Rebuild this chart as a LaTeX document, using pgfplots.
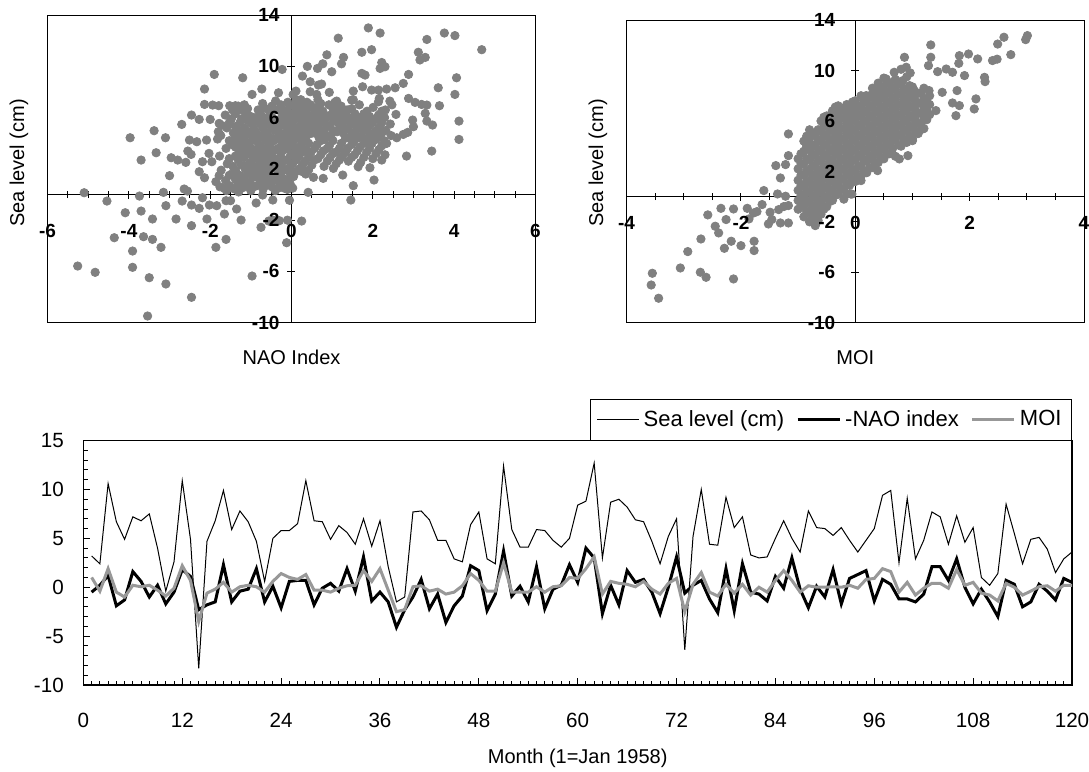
\documentclass[border=0pt]{standalone}
\usepackage{pgfplots}
\pgfplotsset{compat=1.18}
\usepackage{pgfplotstable}
\usepackage{fontspec}
\setmainfont{Liberation Sans}

\definecolor{dotgray}{RGB}{128,128,128}
\definecolor{moigray}{RGB}{152,152,152}

% monthly series: month, sea level (cm), -NAO index, MOI
\pgfplotstableread{
m sl nao moi
1 3.2 -0.5 1.0
2 2.4 0.2 -0.4
3 10.6 1.2 1.9
4 6.7 -1.9 -0.5
5 4.9 -1.3 -1.0
6 7.2 1.6 0.2
7 6.8 0.6 0.05
8 7.5 -1.0 0.2
9 4.0 0.2 -0.3
10 -0.4 -1.7 -0.9
11 2.6 -0.5 -0.1
12 10.9 1.8 2.2
13 4.9 1.1 0.7
14 -8.3 -2.3 -3.5
15 4.7 -1.8 -0.6
16 6.8 -1.5 -0.2
17 9.9 2.3 0.5
18 5.9 -1.5 -0.5
19 7.8 -0.4 0.05
20 6.7 -0.2 0.2
21 4.7 1.9 0.05
22 0.6 -1.5 -0.5
23 5.0 0.1 0.6
24 5.8 -2.1 1.4
25 5.8 0.6 1.0
26 6.5 0.7 0.8
27 10.9 0.7 1.3
28 6.8 -1.8 -0.3
29 6.7 -0.1 -0.3
30 4.9 0.4 -0.5
31 6.3 -0.4 -0.1
32 5.6 1.9 0.15
33 4.4 -0.4 0.2
34 7.0 3.1 1.7
35 4.2 -1.4 0.6
36 6.8 -0.5 1.9
37 2.1 -1.5 -0.3
38 -1.5 -4.1 -2.5
39 -1.0 -2.3 -2.3
40 7.7 -1.0 0.05
41 7.8 0.8 0.15
42 6.9 -2.2 -0.4
43 4.8 -0.7 -0.2
44 4.8 -3.6 -0.7
45 2.9 -1.9 -0.5
46 2.6 -0.9 0.15
47 6.4 2.2 1.4
48 7.7 1.7 0.7
49 2.9 -2.4 -0.4
50 2.4 -0.7 -0.4
51 12.4 3.7 2.5
52 5.9 -0.9 -0.5
53 4.1 0.1 -0.5
54 4.1 -1.5 -0.5
55 5.9 2.1 0.05
56 5.8 -2.2 -0.5
57 4.8 -0.2 0.05
58 4.1 0.2 0.15
59 5.0 2.3 1.0
60 8.4 0.5 0.9
61 8.8 4.0 1.9
62 12.7 3.0 3.1
63 3.0 -2.7 -0.7
64 8.7 0.2 0.6
65 9.0 -1.8 0.4
66 8.2 1.7 0.3
67 6.9 0.5 0.05
68 6.7 0.8 0.6
69 4.7 -0.5 -0.2
70 2.4 -2.7 -0.7
71 5.2 0.0 0.4
72 7.0 3.1 0.9
73 -6.4 -0.6 -2.5
74 5.2 0.2 0.3
75 10.0 0.7 1.5
76 4.4 -1.2 -0.5
77 4.3 -2.6 -0.9
78 9.2 1.9 0.3
79 6.1 -2.4 -0.6
80 7.2 2.4 0.3
81 3.3 -0.5 -0.8
82 3.0 -0.7 0.0
83 3.1 -1.4 -0.5
84 5.0 1.1 0.7
85 6.8 -0.1 1.7
86 5.0 3.0 0.7
87 3.6 -0.2 -0.5
88 7.8 -2.1 0.15
89 6.1 0.1 0.0
90 6.0 -1.0 0.0
91 5.3 1.8 0.05
92 6.1 -1.7 0.0
93 4.8 0.9 0.2
94 3.6 1.3 -0.1
95 4.8 1.7 0.8
96 6.0 -1.4 0.9
97 9.4 0.8 1.9
98 9.9 0.3 1.6
99 2.5 -1.2 -0.5
100 9.1 -1.2 0.5
101 2.9 -1.5 -0.8
102 4.8 -0.7 -0.1
103 7.7 2.1 0.4
104 7.2 2.1 0.4
105 4.4 0.7 -0.1
106 7.3 2.9 1.8
107 4.6 0.0 0.2
108 6.1 -1.7 0.5
109 1.0 -0.2 -0.6
110 0.2 -1.5 -0.8
111 1.4 -3.0 -1.4
112 8.5 0.7 0.4
113 5.5 0.3 0.0
114 2.4 -2.0 -0.8
115 4.9 -1.5 -0.4
116 5.1 0.3 0.05
117 3.9 -0.4 0.15
118 1.5 -1.3 -0.4
119 2.9 0.9 0.2
120 3.6 0.5 0.2
}\monthly

\pgfplotsset{
  scatterbase/.style={
    anchor=south west, scale only axis,
    axis lines=middle, axis line style={-, line width=0.5pt},
    ymin=-10, ymax=14,
    ytick={-10,-6,-2,2,6,10,14},
    minor x tick num=3,
    hide obscured x ticks=false,
    hide obscured y ticks=false,
    tick style={black, line width=0.5pt},
    major tick length=4pt, minor tick length=3.5pt,
    tick label style={font=\fontsize{9.5}{11}\selectfont\bfseries},
    label style={font=\fontsize{10}{12}\selectfont},
    /pgf/number format/assume math mode=true,
  },
  % lower layer: lines, ticks, frame and dots
  scatterunder/.style={scatterbase, xticklabels={}, yticklabels={},
    after end axis/.code={\draw[line width=0.5pt] (rel axis cs:0,0) rectangle (rel axis cs:1,1);}},
  % upper layer: tick labels only, so they stay readable over the dots
  scatterover/.style={scatterbase, axis line style={draw=none}, tick style={draw=none},
    yticklabels={-10,-6,-2,2,6,10,14}},
  dots/.style={only marks, mark=*, mark size=2.1pt, color=dotgray},
}

\begin{document}
\begin{tikzpicture}
\path[use as bounding box] (0pt,0pt) rectangle (544.5pt,386pt);

% ---------- sea level against NAO index ----------
\begin{axis}[scatterunder,
  at={(23.8pt,224.65pt)}, width=243.9pt, height=153.8pt,
  xmin=-6, xmax=6, xtick={-6,-4,-2,0,2,4,6},
]
\addplot[dots] coordinates {
(-0.23,9.76) (-1.90,9.37) (-1.20,9.11) (-2.14,8.23) (-0.73,8.23) (-0.97,7.81) (-0.32,7.94)
(-2.14,7.03) (-1.94,6.98) (-1.79,6.93) (-1.52,6.93) (-1.38,6.93) (-2.46,6.20) (-2.70,5.47)
(-2.27,5.86) (-2.00,5.86) (-1.78,5.55) (-3.38,4.98) (-3.97,4.43) (-3.10,4.43) (-2.51,4.25)
(-2.33,4.12) (-2.09,4.25) (-1.80,4.90) (-1.82,4.33) (-3.33,3.26) (-3.70,2.69) (-2.96,2.87)
(-2.80,2.69) (-2.55,3.39) (-2.47,3.13) (-2.60,2.51) (-2.19,2.56) (-2.03,3.21) (-1.96,2.56)
(-3.00,1.47) (-2.27,1.78) (-2.14,1.31) (-1.78,1.47) (-1.86,1.00) (-2.64,0.43) (-2.56,0.27)
(-1.65,0.48) (-5.10,0.14) (-4.54,-0.51) (-4.09,-1.42) (-3.74,-0.12) (-3.70,-1.29) (-3.15,0.17)
(-3.09,-0.87) (-3.42,-1.91) (-2.84,-1.91) (-2.69,-0.51) (-2.46,-0.82) (-2.46,-2.43) (-2.27,-1.08)
(-2.19,-0.25) (-2.08,-1.91) (-2.02,-0.82) (-1.84,-0.87) (-1.61,-0.48) (-1.50,-0.48) (-1.65,-1.52)
(-1.35,-1.13) (-1.24,-1.99) (-0.87,-0.66) (-0.71,-0.04) (-0.75,-2.56) (-0.56,-2.07) (-0.46,-0.43)
(-0.30,-2.04) (-0.45,-2.00) (-0.10,-2.00) (-0.12,-3.76) (-4.36,-3.37) (-3.64,-3.29) (-3.42,-3.50)
(-3.21,-4.12) (-3.91,-4.41) (-1.61,-3.50) (-1.86,-4.12) (-5.26,-5.58) (-4.83,-6.07) (-3.91,-5.68)
(-3.50,-6.49) (-3.09,-6.98) (-2.46,-8.02) (-3.54,-9.48) (-0.97,-6.36) (-0.05,-0.45) (0.03,0.50)
(1.89,13.0) (2.18,12.6) (1.15,12.2) (3.76,12.6) (4.02,12.4) (4.68,11.3) (3.33,12.1) (3.12,11.1)
(3.16,10.5) (3.29,10.7) (1.73,11.1) (1.97,11.3) (1.28,10.7) (1.23,10.2) (0.87,10.9) (0.39,10.0)
(0.64,9.84) (0.77,10.2) (0.99,9.58) (0.27,9.24) (2.22,10.3) (2.30,9.97) (2.18,9.84) (2.88,9.37)
(1.73,9.45) (1.81,9.32) (4.06,9.11) (0.46,8.80) (0.66,8.54) (0.74,8.62) (0.11,8.07) (1.75,8.41)
(2.75,8.67) (3.61,8.33) (0.46,8.02) (0.62,7.81) (0.93,7.97) (1.52,8.07) (1.97,8.15) (2.14,8.15)
(2.34,8.23) (2.55,8.33) (4.02,7.81) (2.88,7.50) (1.48,7.37) (1.11,7.29) (3.04,7.19) (3.20,7.03)
(3.33,6.98) (3.64,6.93) (2.14,7.24) (2.42,7.29) (2.57,6.25) (3.29,6.33) (2.98,5.81) (3.33,5.73)
(3.47,5.42) (4.12,5.73) (3.00,5.29) (2.86,4.85) (2.75,4.69) (2.59,4.43) (2.34,3.99) (4.12,4.30)
(3.45,3.39) (2.83,3.00) (2.22,2.69) (1.93,2.09) (1.64,2.17) (1.26,1.52) (2.03,1.13) (1.52,0.69)
(1.46,-0.43) (0.25,-2.07) (0.41,0.17) (0.78,1.26) (0.54,1.34) (1.03,2.04) (0.27,1.78)
(-1.76,0.6) (-1.73,1.9) (-1.77,3.0) (-1.74,4.6) (-1.72,5.4)
(-1.60,0.3) (-1.62,1.1) (-1.58,2.4) (-1.61,3.6) (-1.59,5.2) (-1.63,6.2)
(-1.45,0.5) (-1.47,1.6) (-1.44,2.2) (-1.46,3.9) (-1.43,4.8) (-1.48,5.9) (-1.45,6.6)
(-1.30,0.2) (-1.32,0.9) (-1.28,1.5) (-1.31,2.7) (-1.29,3.3) (-1.33,4.1) (-1.30,5.0) (-1.27,5.6) (-1.31,6.9)
(-1.15,0.6) (-1.17,1.3) (-1.14,2.0) (-1.16,2.9) (-1.13,3.6) (-1.18,4.4) (-1.15,5.2) (-1.12,6.3) (-1.16,7.0)
(-1.00,0.3) (-1.02,1.0) (-0.98,1.8) (-1.01,2.5) (-0.99,3.1) (-1.03,3.8) (-1.00,4.6) (-0.97,5.5) (-1.01,6.1)
(-0.85,0.7) (-0.87,1.4) (-0.84,2.2) (-0.86,3.4) (-0.83,4.1) (-0.88,4.9) (-0.85,5.8) (-0.82,6.6)
(-0.70,0.4) (-0.72,1.1) (-0.68,1.9) (-0.71,2.6) (-0.69,3.3) (-0.73,4.5) (-0.70,5.2) (-0.67,6.0) (-0.71,7.1)
(-0.55,0.9) (-0.57,1.6) (-0.54,2.4) (-0.56,3.0) (-0.53,3.9) (-0.58,4.7) (-0.55,5.5) (-0.52,6.4)
(-0.40,0.3) (-0.42,1.2) (-0.38,2.0) (-0.41,2.8) (-0.39,3.5) (-0.43,4.2) (-0.40,5.0) (-0.37,5.8) (-0.41,6.6) (-0.39,7.3)
(-0.25,0.8) (-0.27,1.5) (-0.24,2.3) (-0.26,3.2) (-0.23,4.0) (-0.28,4.8) (-0.25,5.4) (-0.22,6.2) (-0.26,7.0)
(-0.10,0.4) (-0.12,1.1) (-0.08,1.9) (-0.11,2.7) (-0.09,3.6) (-0.13,4.4) (-0.10,5.1) (-0.07,5.9) (-0.11,6.5) (-0.09,7.2)
(0.05,1.4) (0.03,2.4) (0.07,3.3) (0.04,4.1) (0.06,4.9) (0.02,5.6) (0.05,6.3) (0.08,7.0) (0.04,7.8)
(0.20,2.0) (0.18,3.0) (0.22,3.8) (0.19,4.7) (0.21,5.3) (0.17,6.0) (0.20,6.8) (0.23,7.4)
(0.35,1.6) (0.33,2.6) (0.37,3.5) (0.34,4.4) (0.36,5.1) (0.32,5.8) (0.35,6.5) (0.38,7.2)
(0.50,2.3) (0.48,3.3) (0.52,4.8) (0.49,5.6) (0.51,6.2) (0.47,7.0)
(0.65,2.8) (0.63,3.9) (0.67,4.5) (0.64,5.3) (0.66,6.0) (0.62,6.8) (0.65,7.4)
(0.80,2.2) (0.78,3.4) (0.82,4.3) (0.79,5.0) (0.81,5.8) (0.77,6.5)
(0.95,2.9) (0.93,3.8) (0.97,4.6) (0.94,5.4) (0.96,6.2) (0.92,7.0)
(1.10,2.4) (1.08,3.3) (1.12,4.9) (1.09,5.7) (1.11,6.4) (1.07,7.2)
(1.25,3.0) (1.23,4.0) (1.27,4.8) (1.24,5.5) (1.26,6.1) (1.22,6.9)
(1.40,2.6) (1.38,3.6) (1.42,4.4) (1.39,5.2) (1.41,6.0) (1.37,6.6)
(1.55,3.1) (1.53,4.1) (1.57,4.9) (1.54,5.7) (1.56,6.3) (1.52,7.4)
(1.70,2.5) (1.68,3.7) (1.72,4.6) (1.69,5.4) (1.71,6.0) (1.67,7.0)
(1.85,3.3) (1.83,4.3) (1.87,5.2) (1.84,5.8) (1.86,6.5)
(2.00,2.8) (1.98,4.0) (2.02,4.8) (1.99,5.6) (2.01,6.8)
(2.15,3.5) (2.13,4.5) (2.17,5.3) (2.14,6.2) (2.16,7.5)
(2.30,3.1) (2.28,4.2) (2.32,5.0) (2.29,6.0) (2.31,6.6)
(2.45,4.6) (2.43,5.5) (2.47,7.0)
(-1.53,0.7) (-1.53,1.5) (-1.53,2.8) (-1.53,4.2) (-1.53,5.6)
(-1.38,0.4) (-1.38,1.2) (-1.38,1.9) (-1.38,3.0) (-1.38,3.7) (-1.38,4.5) (-1.38,5.3) (-1.38,6.3)
(-1.23,0.5) (-1.23,1.2) (-1.23,2.3) (-1.23,3.1) (-1.23,3.9) (-1.23,4.7) (-1.23,5.9) (-1.23,6.6)
(-1.08,0.9) (-1.08,1.6) (-1.08,2.3) (-1.08,3.3) (-1.08,4.0) (-1.08,4.9) (-1.08,5.8) (-1.08,6.7)
(-0.93,0.6) (-0.93,1.4) (-0.93,2.1) (-0.93,2.8) (-0.93,3.5) (-0.93,4.3) (-0.93,5.1) (-0.93,6.0)
(-0.78,0.9) (-0.78,1.7) (-0.78,2.5) (-0.78,3.0) (-0.78,3.8) (-0.78,4.6) (-0.78,5.5) (-0.78,6.3)
(-0.63,0.7) (-0.63,1.4) (-0.63,2.2) (-0.63,2.8) (-0.63,3.6) (-0.63,4.2) (-0.63,4.9) (-0.63,5.7) (-0.63,6.7)
(-0.48,0.6) (-0.48,1.3) (-0.48,2.1) (-0.48,2.7) (-0.48,3.3) (-0.48,4.4) (-0.48,5.2) (-0.48,6.0) (-0.48,6.9)
(-0.33,0.5) (-0.33,1.1) (-0.33,1.9) (-0.33,2.6) (-0.33,3.6) (-0.33,4.4) (-0.33,5.2) (-0.33,5.8) (-0.33,6.6)
(-0.18,0.5) (-0.18,1.2) (-0.18,1.9) (-0.18,2.7) (-0.18,3.5) (-0.18,4.1) (-0.18,4.7) (-0.18,5.6) (-0.18,6.6)
(-0.03,0.8) (-0.03,1.6) (-0.03,2.2) (-0.03,3.0) (-0.03,3.9) (-0.03,4.6) (-0.03,5.4) (-0.03,6.2) (-0.03,6.9)
(0.12,1.8) (0.12,2.7) (0.12,3.6) (0.12,4.4) (0.12,5.2) (0.12,5.9) (0.12,6.6) (0.12,7.4)
(0.27,2.3) (0.27,3.3) (0.27,4.1) (0.27,5.0) (0.27,5.6) (0.27,6.3) (0.27,7.0)
(0.42,1.9) (0.42,2.9) (0.42,4.0) (0.42,4.7) (0.42,5.4) (0.42,6.1) (0.42,6.8)
(0.57,2.7) (0.57,3.6) (0.57,5.1) (0.57,5.9) (0.57,6.6)
(0.72,3.1) (0.72,4.2) (0.72,4.9) (0.72,5.6) (0.72,6.3) (0.72,7.1)
(0.88,2.6) (0.88,3.6) (0.88,4.6) (0.88,5.3) (0.88,6.1)
(1.02,3.2) (1.02,4.2) (1.02,5.0) (1.02,5.9) (1.02,6.7)
(1.18,2.7) (1.18,3.6) (1.18,5.2) (1.18,6.0) (1.18,6.7)
(1.33,3.3) (1.33,4.4) (1.33,5.1) (1.33,5.8) (1.33,6.4)
(1.48,2.9) (1.48,3.9) (1.48,4.7) (1.48,5.5) (1.48,6.7)
(1.62,3.4) (1.62,4.4) (1.62,5.2) (1.62,6.0)
(1.78,2.9) (1.78,4.0) (1.78,5.0) (1.78,5.7) (1.78,6.3)
(1.92,3.6) (1.92,4.6) (1.92,5.4) (1.92,6.1)
(2.08,3.2) (2.08,4.3) (2.08,5.0) (2.08,5.9)
(2.22,3.8) (2.22,4.8) (2.22,5.6) (2.22,6.5)
};
\end{axis}
\begin{axis}[scatterover,
  at={(23.8pt,224.65pt)}, width=243.9pt, height=153.8pt,
  xmin=-6, xmax=6,
  xtick={-6,-4,-2,0,2,4,6}, xticklabels={-6,-4,-2,0,2,4,6},
  xticklabel style={anchor=center, yshift=-16pt},
  yticklabel style={anchor=east, xshift=-0.5pt},
  xlabel={NAO Index},
  xlabel style={at={(rel axis cs:0.5,0)}, anchor=center, yshift=-17.2pt},
]
\end{axis}

% ---------- sea level against MOI ----------
\begin{axis}[scatterunder,
  at={(313.3pt,224.65pt)}, width=228.7pt, height=151.3pt,
  xmin=-4, xmax=4, xtick={-4,-2,0,2,4},
]
\addplot[dots] coordinates {
(-1.17,4.97) (-0.87,4.31) (-1.17,3.25) (-1.22,2.54) (-1.39,2.46) (-1.31,1.48) (-1.60,0.48)
(-1.36,0.21) (-1.22,0.03) (-1.25,-0.79) (-1.17,-0.71) (-1.34,-1.03) (-1.63,-0.63) (-1.49,-1.24)
(-1.46,-1.82) (-1.31,-2.09) (-1.17,-2.09) (-1.52,-2.17) (-1.72,-1.19) (-1.89,-0.93) (-1.78,-1.30)
(-1.86,-1.77) (-2.13,-0.98) (-2.35,-0.93) (-2.58,-1.45) (-2.26,-1.82) (-2.45,-2.35) (-2.39,-2.88)
(-2.17,-3.54) (-2.29,-4.10) (-2.00,-3.89) (-1.77,-3.54) (-1.77,-4.28) (-2.70,-3.36) (-2.93,-4.36)
(-3.06,-5.66) (-2.71,-6.00) (-2.61,-6.40) (-2.13,-6.53) (-3.55,-6.08) (-3.57,-7.01) (-3.44,-8.06)
(-0.73,-1.30) (-0.69,-1.24) (-0.33,0.20) (-0.06,0.20)
(3.01,12.77) (2.98,12.45) (2.60,12.64) (2.49,12.10) (2.72,11.26) (2.40,10.79) (2.48,10.90)
(2.26,9.46) (2.27,9.12) (2.14,10.92) (1.98,11.31) (1.82,11.18) (1.81,10.57) (1.91,9.60)
(1.59,10.12) (1.70,9.86) (1.44,9.91) (1.32,12.03) (1.32,11.05) (1.28,10.39) (0.86,11.05)
(0.89,10.26) (0.96,9.81) (0.68,9.86) (0.54,9.33) (0.83,9.20) (1.03,8.41) (1.29,8.41)
(1.52,8.27) (1.78,8.41) (2.11,7.75) (2.08,6.95) (1.70,7.43) (1.82,7.22) (1.76,6.42)
(1.41,6.82) (1.21,6.42) (0.19,8.01) (0.42,8.40) (1.18,5.37) (1.00,4.44) (0.92,3.25) (0.77,2.99)
(0.39,2.06) (0.10,1.27) (-0.08,0.21)
(-1.00,-1.0) (-1.00,-0.3) (-1.00,0.5) (-1.00,1.3) (-1.00,2.2) (-1.00,3.0)
(-0.90,-1.6) (-0.90,-0.8) (-0.90,0.0) (-0.90,0.8) (-0.90,1.7) (-0.90,2.6) (-0.90,3.6) (-0.90,4.4)
(-0.80,-2.0) (-0.80,-1.2) (-0.80,-0.4) (-0.80,0.4) (-0.80,1.2) (-0.80,2.0) (-0.80,2.9) (-0.80,3.7) (-0.80,4.6) (-0.80,5.3)
(-0.70,-2.3) (-0.70,-1.5) (-0.70,-0.7) (-0.70,0.1) (-0.70,0.9) (-0.70,1.7) (-0.70,2.5) (-0.70,3.3) (-0.70,4.1) (-0.70,4.9)
(-0.60,-1.4) (-0.60,-0.5) (-0.60,0.3) (-0.60,1.1) (-0.60,1.9) (-0.60,2.8) (-0.60,3.6) (-0.60,4.4) (-0.60,5.2) (-0.60,6.0)
(-0.50,-0.8) (-0.50,0.0) (-0.50,0.8) (-0.50,1.6) (-0.50,2.4) (-0.50,3.2) (-0.50,4.1) (-0.50,4.9) (-0.50,5.6) (-0.50,6.4)
(-0.40,-0.3) (-0.40,0.5) (-0.40,1.3) (-0.40,2.1) (-0.40,2.9) (-0.40,3.7) (-0.40,4.5) (-0.40,5.3) (-0.40,6.1) (-0.40,6.8)
(-0.30,0.2) (-0.30,1.0) (-0.30,1.8) (-0.30,2.6) (-0.30,3.4) (-0.30,4.2) (-0.30,5.0) (-0.30,5.8) (-0.30,6.5) (-0.30,7.2)
(-0.20,-0.2) (-0.20,0.6) (-0.20,1.4) (-0.20,2.2) (-0.20,3.0) (-0.20,3.8) (-0.20,4.6) (-0.20,5.4) (-0.20,6.2) (-0.20,6.9)
(-0.10,0.9) (-0.10,1.7) (-0.10,2.5) (-0.10,3.3) (-0.10,4.1) (-0.10,4.9) (-0.10,5.7) (-0.10,6.5) (-0.10,7.2)
(0.00,1.2) (0.00,2.0) (0.00,2.9) (0.00,3.7) (0.00,4.5) (0.00,5.3) (0.00,6.1) (0.00,6.8) (0.00,7.6)
(0.10,1.6) (0.10,2.4) (0.10,3.2) (0.10,4.0) (0.10,4.8) (0.10,5.6) (0.10,6.4) (0.10,7.2) (0.10,8.0)
(0.20,1.9) (0.20,2.8) (0.20,3.6) (0.20,4.4) (0.20,5.2) (0.20,6.0) (0.20,6.8) (0.20,7.6)
(0.30,2.3) (0.30,3.1) (0.30,3.9) (0.30,4.7) (0.30,5.5) (0.30,6.3) (0.30,7.1) (0.30,7.9) (0.30,8.6)
(0.40,2.7) (0.40,3.5) (0.40,4.3) (0.40,5.1) (0.40,5.9) (0.40,6.7) (0.40,7.5) (0.40,8.3) (0.40,9.0)
(0.50,3.0) (0.50,3.8) (0.50,4.6) (0.50,5.4) (0.50,6.2) (0.50,7.0) (0.50,7.8) (0.50,8.6) (0.50,9.4)
(0.60,3.4) (0.60,4.2) (0.60,5.0) (0.60,5.8) (0.60,6.6) (0.60,7.4) (0.60,8.2) (0.60,9.0)
(0.70,3.2) (0.70,4.5) (0.70,5.3) (0.70,6.1) (0.70,6.9) (0.70,7.7) (0.70,8.5) (0.70,9.3)
(0.80,4.0) (0.80,4.9) (0.80,5.7) (0.80,6.5) (0.80,7.3) (0.80,8.1) (0.80,8.9) (0.80,10.1)
(0.90,4.3) (0.90,5.2) (0.90,6.0) (0.90,6.8) (0.90,7.6) (0.90,8.4) (0.90,9.5)
(1.00,4.6) (1.00,5.5) (1.00,6.3) (1.00,7.1) (1.00,7.9) (1.00,8.7)
(1.10,5.0) (1.10,5.8) (1.10,6.6) (1.10,7.4) (1.10,8.2)
(1.20,5.4) (1.20,6.2) (1.20,7.0) (1.20,7.8) (1.20,8.6)
(1.30,6.5) (1.30,7.3) (1.30,8.0)
(-0.95,-0.6) (-0.95,0.1) (-0.95,0.9) (-0.95,1.7) (-0.95,2.6) (-0.95,3.4)
(-0.85,-1.2) (-0.85,-0.4) (-0.85,0.4) (-0.85,1.2) (-0.85,2.1) (-0.85,3.0) (-0.85,4.0) (-0.85,4.8)
(-0.75,-1.6) (-0.75,-0.8) (-0.75,0.0) (-0.75,0.8) (-0.75,1.6) (-0.75,2.4) (-0.75,3.3) (-0.75,4.1) (-0.75,5.0)
(-0.65,-1.9) (-0.65,-1.1) (-0.65,-0.3) (-0.65,0.5) (-0.65,1.3) (-0.65,2.1) (-0.65,2.9) (-0.65,3.7) (-0.65,4.5) (-0.65,5.3)
(-0.55,-1.0) (-0.55,-0.1) (-0.55,0.7) (-0.55,1.5) (-0.55,2.3) (-0.55,3.2) (-0.55,4.0) (-0.55,4.8) (-0.55,5.6) (-0.55,6.3)
(-0.45,-0.4) (-0.45,0.4) (-0.45,1.2) (-0.45,2.0) (-0.45,2.8) (-0.45,3.6) (-0.45,4.5) (-0.45,5.3) (-0.45,6.0)
(-0.35,0.1) (-0.35,0.9) (-0.35,1.7) (-0.35,2.5) (-0.35,3.3) (-0.35,4.1) (-0.35,4.9) (-0.35,5.7) (-0.35,6.5) (-0.35,7.1)
(-0.25,0.6) (-0.25,1.4) (-0.25,2.2) (-0.25,3.0) (-0.25,3.8) (-0.25,4.6) (-0.25,5.4) (-0.25,6.2) (-0.25,6.9)
(-0.15,0.2) (-0.15,1.0) (-0.15,1.8) (-0.15,2.6) (-0.15,3.4) (-0.15,4.2) (-0.15,5.0) (-0.15,5.8) (-0.15,6.6) (-0.15,7.3)
(-0.05,1.3) (-0.05,2.1) (-0.05,2.9) (-0.05,3.7) (-0.05,4.5) (-0.05,5.3) (-0.05,6.1) (-0.05,6.9) (-0.05,7.5)
(0.05,1.6) (0.05,2.4) (0.05,3.3) (0.05,4.1) (0.05,4.9) (0.05,5.7) (0.05,6.5) (0.05,7.2)
(0.15,2.0) (0.15,2.8) (0.15,3.6) (0.15,4.4) (0.15,5.2) (0.15,6.0) (0.15,6.8) (0.15,7.6)
(0.25,2.3) (0.25,3.2) (0.25,4.0) (0.25,4.8) (0.25,5.6) (0.25,6.4) (0.25,7.2) (0.25,8.0)
(0.35,2.7) (0.35,3.5) (0.35,4.3) (0.35,5.1) (0.35,5.9) (0.35,6.7) (0.35,7.5) (0.35,8.3)
(0.45,3.1) (0.45,3.9) (0.45,4.7) (0.45,5.5) (0.45,6.3) (0.45,7.1) (0.45,7.9) (0.45,8.7)
(0.55,3.4) (0.55,4.2) (0.55,5.0) (0.55,5.8) (0.55,6.6) (0.55,7.4) (0.55,8.2) (0.55,9.0)
(0.65,3.8) (0.65,4.6) (0.65,5.4) (0.65,6.2) (0.65,7.0) (0.65,7.8) (0.65,8.6)
(0.75,4.1) (0.75,4.9) (0.75,5.7) (0.75,6.5) (0.75,7.3) (0.75,8.1) (0.75,8.9)
(0.85,4.5) (0.85,5.3) (0.85,6.1) (0.85,6.9) (0.85,7.7) (0.85,8.5)
(0.95,4.8) (0.95,5.6) (0.95,6.4) (0.95,7.2) (0.95,8.0) (0.95,8.8)
(1.05,5.2) (1.05,6.0) (1.05,6.8) (1.05,7.6)
(1.15,5.8) (1.15,6.6) (1.15,7.4) (1.15,8.2)
(1.25,6.1) (1.25,6.9) (1.25,7.6)
};
\end{axis}
\begin{axis}[scatterover,
  at={(313.3pt,224.65pt)}, width=228.7pt, height=151.3pt,
  xmin=-4, xmax=4,
  xtick={-4,-2,0,2,4}, xticklabels={-4,-2,0,2,4},
  xticklabel style={anchor=center, yshift=-11pt},
  yticklabel style={anchor=east, xshift=-4.5pt},
  xlabel={MOI},
  xlabel style={at={(rel axis cs:0.5,0)}, anchor=center, yshift=-17.6pt},
]
\end{axis}

\node[rotate=90, font=\fontsize{10}{12}\selectfont] at (9.5pt,304.5pt) {Sea level (cm)};
\node[rotate=90, font=\fontsize{10}{12}\selectfont] at (299pt,304.5pt) {Sea level (cm)};

% ---------- monthly time series ----------
\begin{axis}[
  at={(41.7pt,43.5pt)}, anchor=south west, scale only axis,
  width=494.3pt, height=122.2pt,
  xmin=0, xmax=120, ymin=-10, ymax=15,
  xtick={0,12,...,120}, xticklabels={0,12,24,36,48,60,72,84,96,108,120},
  minor x tick num=11,
  ytick={-10,-5,...,15}, yticklabels={-10,-5,0,5,10,15},
  minor y tick num=4,
  tick align=inside, tick pos=left,
  major tick length=3.3pt, minor tick length=2.2pt,
  tick style={black, line width=0.5pt},
  axis line style={line width=0.7pt},
  tick label style={font=\fontsize{10.3}{12}\selectfont},
  xticklabel style={anchor=center, yshift=-17.5pt},
  yticklabel style={anchor=east, xshift=-6.3pt},
  /pgf/number format/assume math mode=true,
  xlabel={Month (1=Jan 1958)},
  xlabel style={font=\fontsize{10}{12}\selectfont, at={(rel axis cs:0.5,0)}, anchor=center, yshift=-36.5pt},
  legend columns=3,
  legend image code/.code={\draw[#1] (0pt,0pt) -- (21pt,0pt);},
  legend style={at={(rel axis cs:1,1)}, anchor=south east, draw=black, line width=0.5pt,
    font=\fontsize{11}{13}\selectfont, inner xsep=3pt, inner ysep=3.5pt,
    /tikz/every even column/.append style={column sep=4pt}},
]
\addplot[black, line width=0.5pt] table[x=m, y=sl] {\monthly};
\addplot[black, line width=1.5pt] table[x=m, y=nao] {\monthly};
\addplot[moigray, line width=1.5pt] table[x=m, y=moi] {\monthly};
\legend{Sea level (cm), -NAO index, MOI}
\end{axis}
\end{tikzpicture}
\end{document}
